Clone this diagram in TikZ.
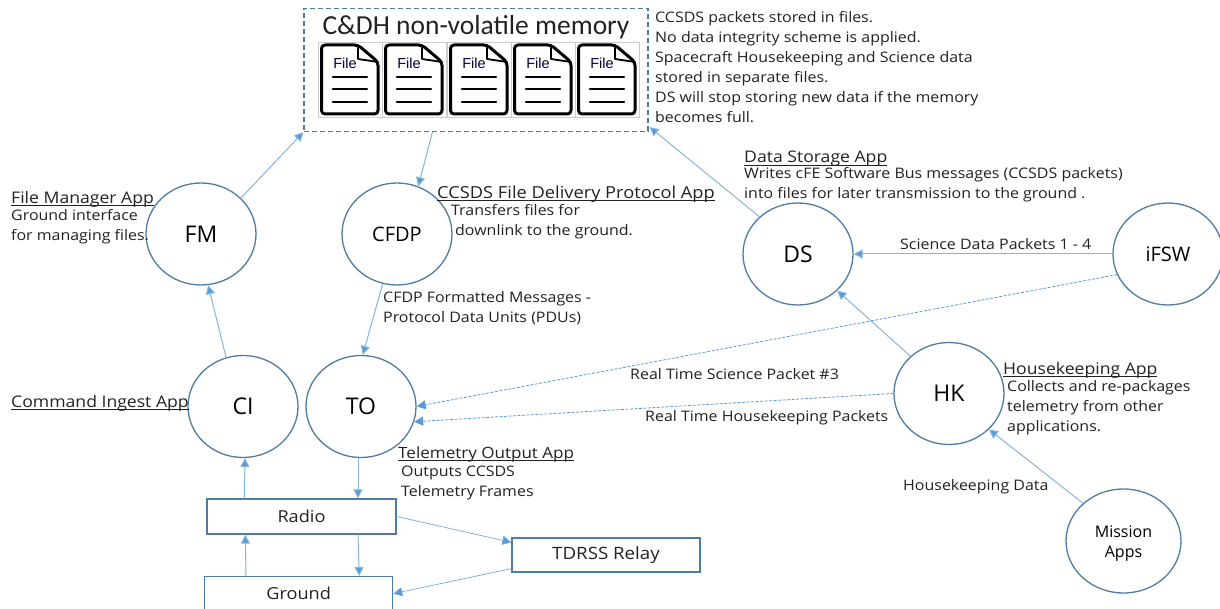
\documentclass[tikz,border=0pt]{standalone}
\usepackage{fontspec}
\setmainfont[FakeStretch=1.1]{Open Sans}
\newfontfamily\circfont{Open Sans}
\newfontfamily\headfont{Carlito}
\newfontfamily\arialfont{Liberation Sans}
\usetikzlibrary{arrows.meta,calc,shapes.geometric}
\definecolor{edgeblue}{HTML}{4F7BA5}
\definecolor{arrowblue}{HTML}{5B9BD5}
\definecolor{txt}{HTML}{222222}
\newcommand{\ulbl}[1]{\setbox0\hbox{#1}\rlap{\rule[-2.6pt]{\wd0}{.7pt}}\box0}
\tikzset{
  x=1pt,y=-1pt,
  circ/.style={ellipse,draw=edgeblue,line width=1.3pt,minimum width=110pt,minimum height=102pt,inner sep=0pt,font=\circfont\fontsize{23}{25}\selectfont,text=black},
  boxn/.style={rectangle,draw=edgeblue,line width=1.3pt,minimum height=35pt,inner sep=0pt,font=\fontsize{16.5}{18}\selectfont,text=txt},
  conn/.style={draw=arrowblue!75!white,line width=1pt,-{Triangle[length=9pt,width=9pt,fill=arrowblue]}},
  tconn/.style={draw=arrowblue!85!white,line width=.7pt,-{Triangle[length=9pt,width=9pt,fill=arrowblue]}},
  dconn/.style={draw=arrowblue,line width=.8pt,dash pattern=on 3pt off 1.5pt,-{Triangle[length=9pt,width=9pt,fill=arrowblue]}},
  lab/.style={anchor=west,inner sep=0pt,font=\fontsize{14.5}{20}\selectfont,text=txt,align=left},
  title/.style={anchor=west,inner sep=0pt,font=\fontsize{16}{18}\selectfont,text=txt},
  filedoc/.pic={
    \draw[draw=black!20,line width=.5pt] (0,0) rectangle (64,75);
    \draw[black,line width=3pt,line join=round,rounded corners=3.5pt] (3.5,3) -- (40,3) -- (60,20) -- (60,72) -- (3.5,72) -- cycle;
    \draw[black,line width=1.8pt,line join=round] (40,3) -- (40,17) -- (60,20);
    \foreach \yy in {35,47,60}{\draw[black,line width=2.2pt,line cap=round] (15,\yy) -- (49,\yy);}
    \node[inner sep=0pt,text=black!75!blue,font=\arialfont\fontsize{14.5}{16}\selectfont] at (27,21) {File};
  }
}
\begin{document}
\begin{tikzpicture}
\useasboundingbox (0,0) rectangle (1220,609);
% memory
\node[draw=edgeblue,dash pattern=on 5pt off 3pt,line width=1.2pt,minimum width=344pt,minimum height=123pt,inner sep=0pt] (mem) at (476,70) {};
\node[inner sep=0pt,font=\headfont\fontsize{27.5}{29}\selectfont,text=txt] (memt) at (476,27) {C\&DH non-volatile memory};
\pic at (318,42) {filedoc};
\pic at (382,42) {filedoc};
\pic at (447,42) {filedoc};
\pic at (511,42) {filedoc};
\pic at (575,42) {filedoc};
% circles
\node[circ] (fm) at (201,234) {FM};
\node[circ,font=\circfont\fontsize{20}{22}\selectfont] (cfdp) at (397,234) {CFDP};
\node[circ] (ds) at (798,254) {DS};
\node[circ,font=\circfont\fontsize{20}{22}\selectfont] (ifsw) at (1168,254) {iFSW};
\node[circ] (ci) at (243,406.5) {CI};
\node[circ] (to) at (361,406.5) {TO};
\node[circ] (hk) at (949,393.5) {HK};
\node[circ,minimum width=115pt,minimum height=104pt,align=center,font=\circfont\fontsize{16}{20.5}\selectfont] (ma) at (1123.5,541) {\rule{0pt}{17pt}Mission\\Apps};
% boxes
\node[boxn,minimum width=189pt] (radio) at (301.5,516.5) {Radio};
\node[boxn,minimum width=188pt,minimum height=34pt,anchor=north west] (ground) at (204,576) {Ground};
\node[boxn,minimum width=188pt,minimum height=34pt,font=\fontsize{17}{19}\selectfont] (tdrss) at (606,555) {TDRSS Relay};
% connectors
\draw[conn] (fm.42) -- (mem.south west);
\draw[conn] ([xshift=129pt]mem.south west) -- (cfdp.66);
\draw[conn] (ds.136) -- ([xshift=1pt,yshift=5pt]mem.south east);
\draw[conn] (ifsw.west) -- (ds.east);
\draw[conn] (hk.136) -- (ds.-43);
\draw[conn] (ma.137) -- (hk.-42);
\draw[dconn] (ifsw.202) -- (to.0);
\draw[dconn] (hk.west) -- (to.-16);
\draw[conn] (cfdp.-106) -- (to.88);
\draw[conn] (ci.109) -- (fm.-82);
\draw[conn] ([xshift=38pt]radio.north west) -- ([xshift=2pt]ci.south);
\draw[conn] ([xshift=-3pt]to.south) -- ([xshift=56.5pt]radio.north);
\draw[conn] ([xshift=56.5pt]radio.south) -- ([xshift=-34pt]ground.north east);
\draw[conn] ([xshift=42pt]ground.north west) -- ([xshift=39pt]radio.south west);
\draw[tconn] (radio.east) -- ([yshift=-5pt]tdrss.north west);
\draw[tconn] ([yshift=4pt]tdrss.south west) -- (ground.east);
% texts
\node[lab] (t1) at (655,67) {CCSDS packets stored in files.\\No data integrity scheme is applied.\\Spacecraft Housekeeping and Science data\\stored in separate files.\\DS will stop storing new data if the memory\\becomes full.};
\node[title] (t2) at (744,159) {\ulbl{Data Storage App}};
\node[lab] (t3) at (744,185) {Writes cFE Software Bus messages (CCSDS packets)\\into files for later transmission to the ground .};
\node[title] (t4) at (11,199) {\ulbl{File Manager App}};
\node[lab] (t5) at (11,227) {Ground interface\\for managing files.};
\node[title,font=\fontsize{16.6}{18}\selectfont] (t6) at (437,194) {\ulbl{CCSDS File Delivery Protocol App}};
\node[lab] (t7) at (451,222) {Transfers files for\\\hspace*{4pt}downlink to the ground.};
\node[lab] (t8) at (383,308) {CFDP Formatted Messages -\\Protocol Data Units (PDUs)};
\node[lab] (t9) at (900,244) {Science Data Packets 1 - 4};
\node[lab] (t10) at (630,374) {Real Time Science Packet \#3};
\node[lab] (t11) at (645,418) {Real Time Housekeeping Packets};
\node[title] (t12) at (1003,370) {\ulbl{Housekeeping App}};
\node[lab] (t13) at (1007,408) {Collects and re-packages\\telemetry from other\\applications.};
\node[title] (t14) at (11,403) {\ulbl{Command Ingest App}};
\node[title,font=\fontsize{15.5}{18}\selectfont] (t15) at (398,454) {\ulbl{Telemetry Output App}};
\node[lab] (t16) at (401,483) {Outputs CCSDS\\Telemetry Frames};
\node[lab] (t17) at (903,487) {Housekeeping Data};
\end{tikzpicture}
\end{document}
